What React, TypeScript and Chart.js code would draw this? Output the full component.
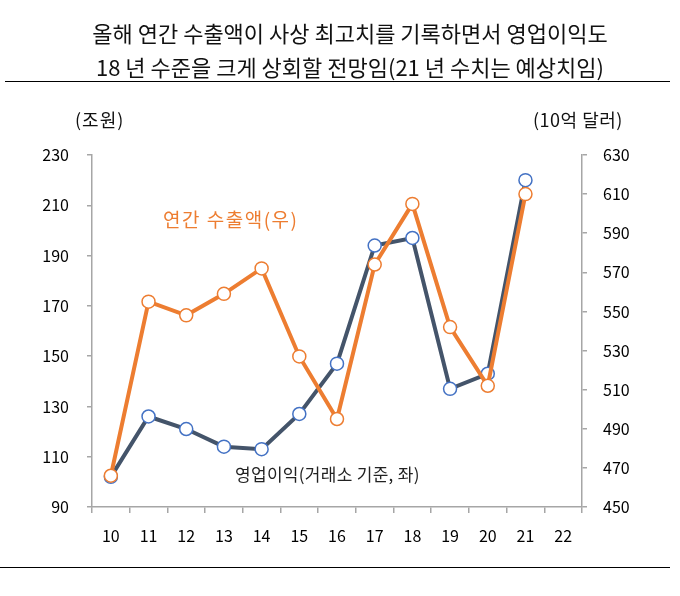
import React, { useEffect, useRef } from "react";
import { Chart, registerables } from "chart.js";

Chart.register(...registerables);

const years = ["10", "11", "12", "13", "14", "15", "16", "17", "18", "19", "20", "21", "22"];
const exportsUSD = [466, 555, 548, 559, 572, 527, 495, 574, 605, 542, 512, 610, null];
const operatingProfit = [102, 126, 121, 114, 113, 127, 147, 194, 197, 137, 143, 220, null];

const titleLine1 = "올해 연간 수출액이 사상 최고치를 기록하면서 영업이익도";
const titleLine2 = "18 년 수준을 크게 상회할 전망임(21 년 수치는 예상치임)";
const leftUnit = "(조원)";
const rightUnit = "(10억 달러)";
const exportLabel = "연간 수출액(우)";
const profitLabel = "영업이익(거래소 기준, 좌)";

const FONT = "'Noto Sans CJK KR', 'Noto Sans', sans-serif";
const ORANGE = "#ED7D31";
const NAVY = "#44546A";
const BLUE = "#4472C4";
const AXIS = "#A6A6A6";

export default function App() {
  const ref = useRef<HTMLCanvasElement | null>(null);

  useEffect(() => {
    document.body.style.margin = "0";
    const canvas = ref.current;
    if (!canvas) return;
    const chart = new Chart(canvas, {
      type: "line",
      data: {
        labels: years,
        datasets: [
          {
            label: exportLabel,
            data: exportsUSD,
            yAxisID: "y1",
            borderColor: ORANGE,
            borderWidth: 4,
            pointRadius: 6.5,
            pointBorderWidth: 1.5,
            pointBorderColor: ORANGE,
            pointBackgroundColor: "#FFFFFF",
            tension: 0,
            order: 0,
          },
          {
            label: profitLabel,
            data: operatingProfit,
            yAxisID: "y",
            borderColor: NAVY,
            borderWidth: 4,
            pointRadius: 6.5,
            pointBorderWidth: 1.5,
            pointBorderColor: BLUE,
            pointBackgroundColor: "#FFFFFF",
            tension: 0,
            order: 1,
          },
        ],
      },
      options: {
        animation: false,
        responsive: false,
        devicePixelRatio: 1,
        layout: { padding: { top: 155, left: 0, right: 0, bottom: 0 } },
        plugins: {
          legend: { display: false },
          tooltip: { enabled: false },
          title: { display: false },
        },
        scales: {
          x: {
            type: "category",
            offset: true,
            grid: {
              display: true,
              drawOnChartArea: false,
              drawTicks: true,
              tickLength: 6,
              offset: true,
              color: AXIS,
              lineWidth: 1.5,
            },
            border: { display: true, color: AXIS, width: 1.5 },
            ticks: {
              color: "#000000",
              font: { family: FONT, size: 16 },
              padding: 13,
              maxRotation: 0,
              autoSkip: false,
            },
            afterFit: (scale: any) => {
              scale.height = 596 - 507;
            },
          },
          y: {
            type: "linear",
            position: "left",
            min: 90,
            max: 230,
            grid: {
              display: true,
              drawOnChartArea: false,
              drawTicks: true,
              tickLength: 5,
              color: AXIS,
              lineWidth: 1.5,
            },
            border: { display: true, color: AXIS, width: 1.5 },
            ticks: {
              stepSize: 20,
              color: "#000000",
              font: { family: FONT, size: 16 },
              padding: 18,
            },
            afterFit: (scale: any) => {
              scale.width = 92;
            },
          },
          y1: {
            type: "linear",
            position: "right",
            min: 450,
            max: 630,
            grid: {
              display: true,
              drawOnChartArea: false,
              drawTicks: true,
              tickLength: 5,
              color: AXIS,
              lineWidth: 1.5,
            },
            border: { display: true, color: AXIS, width: 1.5 },
            ticks: {
              stepSize: 20,
              color: "#000000",
              font: { family: FONT, size: 16 },
              padding: 16,
            },
            afterFit: (scale: any) => {
              scale.width = 680 - 582;
            },
          },
        },
      },
    });
    return () => chart.destroy();
  }, []);

  const text: React.CSSProperties = {
    position: "absolute",
    fontFamily: FONT,
    whiteSpace: "nowrap",
    lineHeight: 1,
  };

  return (
    <div style={{ position: "relative", width: 680, height: 596, background: "#fff", overflow: "hidden" }}>
      <canvas ref={ref} width={680} height={596} style={{ position: "absolute", left: 0, top: 0, width: 680, height: 596 }} />
      <div style={{ ...text, left: 10, width: 680, top: 21, textAlign: "center", fontSize: 22, color: "#111" }}>{titleLine1}</div>
      <div style={{ ...text, left: 10, width: 680, top: 55, textAlign: "center", fontSize: 22, color: "#111" }}>{titleLine2}</div>
      <div style={{ position: "absolute", left: 5, width: 665, top: 81, height: 0, borderTop: "1.5px solid #000" }} />
      <div style={{ position: "absolute", left: 0, width: 670, top: 567, height: 0, borderTop: "1.5px solid #000" }} />
      <div style={{ ...text, left: 75, top: 110, fontSize: 18, letterSpacing: 1, color: "#111" }}>{leftUnit}</div>
      <div style={{ ...text, left: 533, top: 110, fontSize: 18, letterSpacing: 0.5, color: "#111" }}>{rightUnit}</div>
      <div style={{ ...text, left: 163, top: 209, fontSize: 19, letterSpacing: 1.5, color: ORANGE }}>{exportLabel}</div>
      <div style={{ ...text, left: 235, top: 465, fontSize: 17, letterSpacing: 0.3, color: "#222" }}>{profitLabel}</div>
    </div>
  );
}
